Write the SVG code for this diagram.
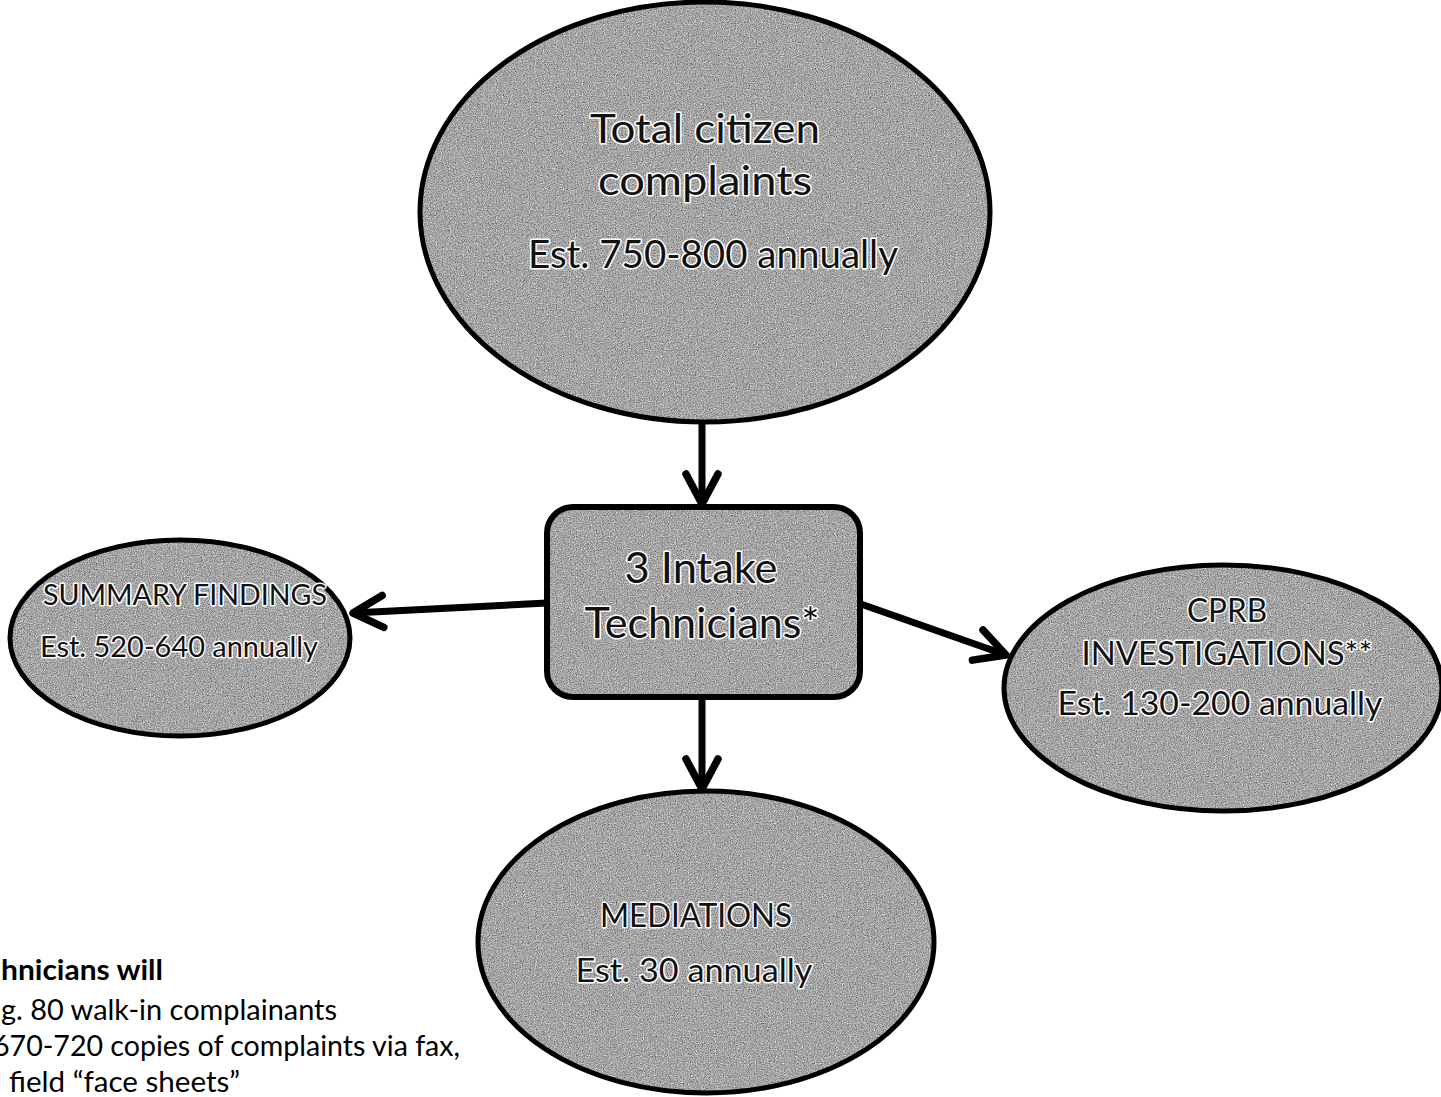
<svg xmlns="http://www.w3.org/2000/svg" width="1441" height="1097" viewBox="0 0 1441 1097">
  <style>
    .shape { fill: url(#tex); stroke: #000; stroke-width: 5; }
    .box { fill: url(#tex); stroke: #000; stroke-width: 6; }
    .lbl { font-family: Lato, "Liberation Sans", sans-serif; fill: #111111; stroke: #ffffff; stroke-width: 3; stroke-linejoin: round; paint-order: stroke; text-anchor: middle; }
    .note { font-family: Lato, "Liberation Sans", sans-serif; fill: #000; font-size: 29px; }
    .conn { fill: none; stroke: #000; stroke-width: 7; marker-end: url(#chev); }
  </style>
  <defs>
    <filter id="grain" x="0" y="0" width="100%" height="100%" color-interpolation-filters="sRGB">
      <feTurbulence type="fractalNoise" baseFrequency="0.85" numOctaves="2" seed="7" result="noise"/>
      <feColorMatrix in="noise" type="matrix" values="0.33 0.33 0.33 0 0  0.33 0.33 0.33 0 0  0.33 0.33 0.33 0 0  0 0 0 0 1" result="gray"/>
      <feComponentTransfer in="gray">
        <feFuncR type="linear" slope="1.3" intercept="0.0"/>
        <feFuncG type="linear" slope="1.3" intercept="0.0"/>
        <feFuncB type="linear" slope="1.3" intercept="0.0"/>
      </feComponentTransfer>
    </filter>
    <pattern id="tex" patternUnits="userSpaceOnUse" x="0" y="0" width="1441" height="1097">
      <rect width="1441" height="1097" fill="#a6a6a6"/>
      <rect width="1441" height="1097" fill="#a6a6a6" filter="url(#grain)"/>
    </pattern>
    <marker id="chev" markerUnits="userSpaceOnUse" viewBox="0 0 44 44" refX="38" refY="22" markerWidth="44" markerHeight="44" orient="auto">
      <path d="M8,6 L38,22 L8,38" fill="none" stroke="#000" stroke-width="7.5" stroke-linecap="round" stroke-linejoin="round"/>
    </marker>
  </defs>

  <rect width="1441" height="1097" fill="#ffffff"/>

  <g id="connectors">
    <path class="conn" d="M702,421 L702,504"/>
    <path class="conn" d="M547,603 L353,613"/>
    <path class="conn" d="M858,603 L1006,655"/>
    <path class="conn" d="M702,697 L702,789"/>
  </g>

  <g id="node-total">
    <ellipse class="shape" cx="705" cy="212" rx="285" ry="210"/>
    <text class="lbl" font-size="41" x="705" y="143" textLength="230" lengthAdjust="spacingAndGlyphs">Total citizen</text>
    <text class="lbl" font-size="41" x="705" y="195" textLength="214" lengthAdjust="spacingAndGlyphs">complaints</text>
    <text class="lbl" font-size="38" x="713" y="268" textLength="370" lengthAdjust="spacingAndGlyphs">Est. 750-800 annually</text>
  </g>

  <g id="node-intake">
    <rect class="box" x="547" y="507" width="313" height="190" rx="26" ry="26"/>
    <text class="lbl" font-size="42" x="701" y="583" textLength="153" lengthAdjust="spacingAndGlyphs">3 Intake</text>
    <text class="lbl" font-size="42" x="702" y="638" textLength="235" lengthAdjust="spacingAndGlyphs">Technicians*</text>
  </g>

  <g id="node-summary">
    <ellipse class="shape" cx="180" cy="638" rx="170" ry="98"/>
    <text class="lbl" font-size="28" x="185" y="605" textLength="284" lengthAdjust="spacingAndGlyphs">SUMMARY FINDINGS</text>
    <text class="lbl" font-size="29" x="179" y="657" textLength="278" lengthAdjust="spacingAndGlyphs">Est. 520-640 annually</text>
  </g>

  <g id="node-cprb">
    <ellipse class="shape" cx="1223" cy="688" rx="219" ry="123"/>
    <text class="lbl" font-size="33" x="1227" y="622" textLength="80" lengthAdjust="spacingAndGlyphs">CPRB</text>
    <text class="lbl" font-size="33" x="1227" y="665" textLength="291" lengthAdjust="spacingAndGlyphs">INVESTIGATIONS**</text>
    <text class="lbl" font-size="33" x="1220" y="715" textLength="325" lengthAdjust="spacingAndGlyphs">Est. 130-200 annually</text>
  </g>

  <g id="node-mediations">
    <ellipse class="shape" cx="706" cy="942" rx="228" ry="151"/>
    <text class="lbl" font-size="33" x="696" y="927" textLength="192" lengthAdjust="spacingAndGlyphs">MEDIATIONS</text>
    <text class="lbl" font-size="33" x="694" y="982" textLength="237" lengthAdjust="spacingAndGlyphs">Est. 30 annually</text>
  </g>

  <g id="footnote">
    <text class="note" font-weight="bold" x="1" y="980" textLength="162" lengthAdjust="spacingAndGlyphs">hnicians will</text>
    <text class="note" x="1" y="1020" textLength="336" lengthAdjust="spacingAndGlyphs">g. 80 walk-in complainants</text>
    <text class="note" x="-7" y="1056" textLength="467" lengthAdjust="spacingAndGlyphs">670-720 copies of complaints via fax,</text>
    <text class="note" x="9" y="1092" textLength="231" lengthAdjust="spacingAndGlyphs">field “face sheets”</text>
  </g>
</svg>
